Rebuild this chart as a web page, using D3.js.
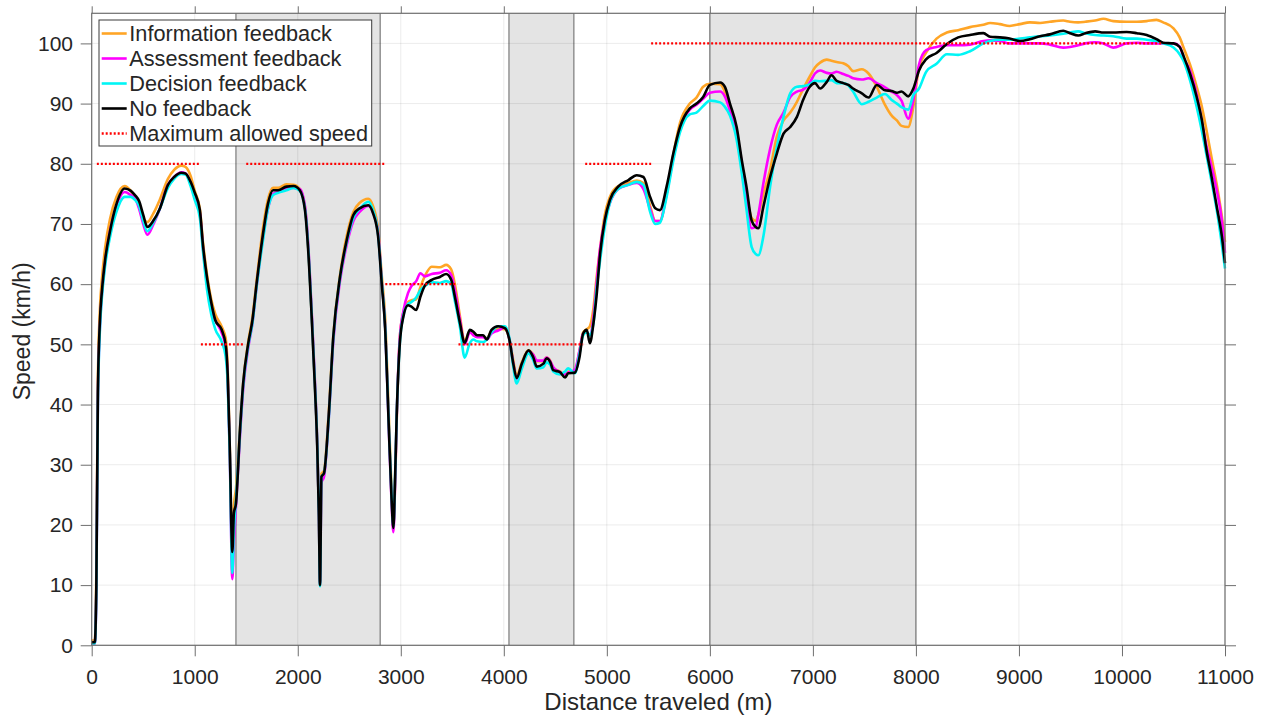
<!DOCTYPE html>
<html>
<head>
<meta charset="utf-8">
<script src="https://cdn.jsdelivr.net/npm/d3@7"></script>
<style>
  html, body { margin: 0; padding: 0; background: #fff; }
  svg { display: block; }
  text { font-family: "Liberation Sans", Arial, sans-serif; fill: #262626; }
</style>
</head>
<body>
<svg id="chart" width="1265" height="717"></svg>
<script>
// ---------------- DATA ----------------
const distance = [
  0,30,45,60,80,100,130,180,240,320, 380,420,460,500,540,600,660,740,800,870, 910,960,1000,1050,1080,1120,1160,1200,1260,1300, 1320,1340,1365,1380,1400,1440,
  1470,1520,1560,1600,1660,1710,1760,1810,1890,1960, 2020,2070,2100,2135,2165,2190,2205,2216,2230,2255, 2300,2345,2410,2475,2540,2600,2685,2730,2780,2815, 2850,2880,2910,2928,2945,2960,
  2990,3025,3070,3100,3150,3190,3235,3300,3380,3440, 3490,3525,3575,3620,
  3670,3705,3740,3800,3835,3880,3945,4010,4055,
  4090,4125,4175,4240,4285,4320,4385,4415,4450,4480, 4545,4595,4625,4690,4735,4770,4805,4835,4870,4900,
  4935,4980,5030,5110,5210,5290,5355,5420,5470,5515, 5580,5645,5710,5805,5870,5935,6000,
  6100,6145,6195,6260,6310,6355,6405,6445,6470,6520, 6585,6650,6715,6780,6845,6905,6970,7020,7070,7135, 7180,7230,7295,7345,7390,7475,7540,7620,7700,7765, 7815,7860,7925,7975,
  8030,8100,8200,8300,8410,8525,8655,8720,8815,8910, 9010,9105,9205,9300,9430,9495,9575,9645,9740,9820, 9915,10045,10145,10240,10335,10400,10500,10560,10600,10660, 10725,10775,10820,10870,10920,10970,11000
];

const infoFeedback = [
  0.8,0.8,12,44,56,61,66,71,74.5,76.3, 75.5,74.5,73,71,70.3,71.8,74,77.5,79,79.7, 79.5,78,75.5,72.5,67,61.5,57.5,55,53,51, 46,33,14.5,23,26,36,
  43.5,50.5,54.5,60.5,69,74,76,76,76.6,76.5, 75.8,72.8,66.5,55,44,33,22,10.5,28.5,29, 38.5,51.5,61.5,68,72,73.5,74.2,73,69,61.5, 54,40,26,20,27,37,
  51,55.3,57,57.3,57.5,59.5,61.4,62.9,62.8,63.2, 62.4,60,54.6,50.5,
  52.2,51.8,51.5,51.3,51,52.2,52.6,52.5,50.8,
  47.5,44.8,47,49,48.3,47.2,47.2,47.8,47.3,46, 45.5,44.8,45.5,45.5,49,52,52.5,53,56,61,
  66,71.5,74.5,76.3,76.8,77.2,76.8,73,70.5,70.5, 75,81.5,86.8,90,91,92.8,93.3,
  93.2,92,89.5,85.5,79.5,75,71,70.5,71.5,75, 79,84.5,87.2,88.5,90.3,92.4,94.5,96,96.8,97.3, 97.1,96.9,96.7,96.2,95.4,95.7,95,92.8,89.8,88, 87.2,86.3,86.1,89.5,
  96,98.5,100.8,101.8,102.2,102.7,103.1,103.4,103.2,102.9, 103.2,103.5,103.4,103.6,103.8,103.6,103.5,103.6,103.8,104.1, 103.7,103.6,103.6,103.7,103.9,103.5,102.5,101,99.2,96.5, 92.8,89.5,85.6,81,76.5,71.2,67
];

const assessmentFeedback = [
  0.3,0.3,9,41,53,58.5,63.5,69,73,75.3, 74.8,74.3,72.5,70,68.2,70,72.5,76.5,77.8,78.6, 78.4,76.8,74.6,71.8,66,60,56,54,52,49.5, 44.5,32,11,17,23,35,
  42.5,49.5,53.5,59.5,67.5,72.5,75,75.3,76,76, 75.8,73,67,55.5,44.5,33,22,10.2,27,28, 37.5,50.5,60.5,66.5,70.5,72,73,72,68.5,60.5, 52.5,38,24,18.8,27,37.5,
  51,55.5,58.5,59.6,60.5,61.8,61.3,61.7,61.9,62.3, 61.5,59,54,50,
  52,51.5,51.2,51.2,50.8,51.8,52.3,52.8,50.8,
  47,44.2,46.6,48.8,48.3,47.3,47.3,47.8,47.2,46.2, 45.4,45,45.3,45.8,49,51.8,52,51.5,54.5,60,
  66,70.5,73.5,75.8,76.5,76.8,75.8,72.5,70.5,70.5, 75,81,85.8,89,89.8,90.8,91.8,
  92,91.2,88.8,85,80,74,69.3,69.5,71.5,76.8, 82.5,86.5,88.5,91.1,92,92.3,93.5,95,95.5,95.1, 95,95.3,94.9,94.6,94.2,94,94.2,93.4,92.7,92, 91.4,90.5,87.5,90.6,
  96.5,98.9,99.4,99.7,99.7,99.8,100.4,100.5,100.4,100, 100,100,100,99.8,99.3,99.4,99.7,100,100.2,100, 99.3,100,100.1,100,100,100,100,99.5,97.5,95.5, 91.5,87,83,79.5,75.6,70.5,65.2
];

const decisionFeedback = [
  0.3,0.3,9,40,52.5,58,63,68,72,74.5, 74.5,74,73,70.5,68.8,70.3,72.5,76,77.5,78.3, 78.2,76.3,74,71,65.5,59,55,52.5,50.5,48, 43.5,32,12,19,24,35.5,
  43,49.8,53.5,59.5,67,72.5,74.8,75.2,75.6,76, 75.5,72.5,66.5,55,44,33,22,9.8,28,28.6, 37.5,51,61,67,71,72.5,73.7,72.3,68.2,60.5, 52.5,38.5,25,19.7,28,38,
  50,54.8,56.7,57,57.8,59,59.7,60.3,60.2,60.5, 60,57.2,52.8,47.8,
  50.2,50.8,50.5,50.4,50.8,52,53,53,51,
  46.5,43.5,46,48.5,47.4,46,46.2,47,46.6,45.5, 45,45.5,46,45.2,48.5,51.5,52,51.5,53.5,59,
  64,69.5,73.5,75.8,76.5,77,76.5,72,70,70.2, 74.5,80.5,85.2,88.2,88.5,89.6,90.5,
  90.2,89.5,88,84,78.4,72.5,66.2,65,64.8,68, 76.2,82.8,87.8,91.7,92.8,92.9,93.2,93.8,93.7,93.8, 93.9,93.4,93.4,93,92,89.9,90.3,91,91.6,90.6, 90,89.4,89,91.4,
  92.5,95.3,96.6,98.2,98.1,98.7,100,100.4,100.6,100.6, 100.8,101,101.2,101.3,101.6,101.8,102,101.7,101.4,101.3, 101.2,100.8,100.8,100.6,100.4,100,99.3,98.2,97,93.9, 89.5,85.5,81.5,77,72.3,66.5,62.6
];

const noFeedback = [
  0.5,0.5,10,42,54,59,64,69,73.3,75.9, 75.5,74.8,73.8,71.5,69.5,70.6,72.5,76.5,77.8,78.5, 78.4,77,75.2,72.3,66.5,61,57,54,52.5,50, 45,33,15.5,22,23.5,36,
  43.5,50.2,54,60,68,73.3,75.6,75.6,76.2,76.3, 75.6,72.3,66,54.6,43.5,32.4,21.5,10,28,28.6, 38,51.3,61.2,67.3,71.5,72.6,73.1,71.8,67.9,60.1, 52,38,24.5,19.5,28,38,
  50,54.6,56.5,56.3,55.7,57.9,59.8,60.7,61.2,61.7, 60.7,57.9,53.5,50.2,
  52.4,52.1,51.5,51.5,50.8,52.4,53,52.7,50.7,
  47,44.4,46.8,49,47.9,46.3,46.8,47.7,47.1,45.7, 45.4,44.5,45.2,45.3,47.9,51.8,52.4,50.2,53.5,58,
  65.1,70.6,74,76.2,77.3,78.1,77.8,74.5,72.6,72.3, 76.2,81.7,86.1,89.2,90,91.1,93.1,
  93.5,92.8,90,86.1,80.6,76.2,70.6,69.5,69.3,72.9, 77.8,81.7,85,86.1,87.8,90.6,92.8,93.4,92.5,93.6, 94.7,93.8,93.4,93.1,92.5,91.7,91,93.1,92.2,92.1, 91.8,92,91.2,92.5,
  95.5,97.4,98.4,99.9,101,101.4,101.7,101.1,101,100.8, 100.4,100.7,101.2,101.5,102.1,101.7,101.3,101.7,102,101.8, 101.8,101.9,101.7,101.4,100.7,100.1,100,99.4,97.8,95, 91.1,87.3,82.3,77.8,72.9,67.9,63.5
];

// speed-limit segments
const limitStart = [50, 1060, 1500, 2850, 3560, 4790, 5430];
const limitEnd   = [1050, 1470, 2850, 3550, 4770, 5430, 10400];
const limitValue = [80, 50, 80, 60, 50, 80, 100];

// shaded zones
const zoneStart = [1400, 4050, 6000];
const zoneEnd   = [2800, 4680, 8000];

const seriesNames = ["Information feedback", "Assessment feedback", "Decision feedback", "No feedback"];
const limitName = "Maximum allowed speed";
const xTicks = [0,1000,2000,3000,4000,5000,6000,7000,8000,9000,10000,11000];
const yTicks = [0,10,20,30,40,50,60,70,80,90,100];
const xTitle = "Distance traveled (m)";
const yTitle = "Speed (km/h)";

// ---------------- DRAW ----------------
const colors = ["#FFA526", "#FF00FF", "#00F5F5", "#000000"];
const seriesValues = [infoFeedback, assessmentFeedback, decisionFeedback, noFeedback];

const svg = d3.select("#chart");
const L = 91.7, R = 1225, T = 13.3, B = 645.3;
const x = d3.scaleLinear().domain([0, 11000]).range([L, R]);
const y = d3.scaleLinear().domain([0, 105]).range([B, T]);

// shaded zones
svg.append("g").selectAll("rect").data(zoneStart).join("rect")
  .attr("x", (d, i) => x(d)).attr("y", T)
  .attr("width", (d, i) => x(zoneEnd[i]) - x(d)).attr("height", B - T)
  .attr("fill", "#e4e4e4");
svg.append("g").selectAll("line").data(zoneStart.concat(zoneEnd)).join("line")
  .attr("x1", d => x(d)).attr("x2", d => x(d)).attr("y1", T).attr("y2", B)
  .attr("stroke", "#7a7a7a").attr("stroke-width", 1.2);

// grid
const grid = svg.append("g");
grid.selectAll(".gx").data(xTicks).join("line")
  .attr("x1", d => x(d)).attr("x2", d => x(d)).attr("y1", T).attr("y2", B)
  .attr("stroke", "rgba(0,0,0,0.08)").attr("stroke-width", 1);
grid.selectAll(".gy").data(yTicks).join("line")
  .attr("y1", d => y(d)).attr("y2", d => y(d)).attr("x1", L).attr("x2", R)
  .attr("stroke", "rgba(0,0,0,0.08)").attr("stroke-width", 1);

// series lines
const line = d3.line().curve(d3.curveMonotoneX);
const gLines = svg.append("g");
seriesValues.forEach((vals, k) => {
  const pts = distance.map((d, i) => [x(d), y(vals[i])]);
  gLines.append("path").attr("d", line(pts))
    .attr("fill", "none").attr("stroke", colors[k])
    .attr("stroke-width", 2.6).attr("stroke-linejoin", "round");
});

// speed limits
svg.append("g").selectAll("line").data(limitStart).join("line")
  .attr("x1", d => x(d)).attr("x2", (d, i) => x(limitEnd[i]))
  .attr("y1", (d, i) => y(limitValue[i])).attr("y2", (d, i) => y(limitValue[i]))
  .attr("stroke", "#ff0000").attr("stroke-width", 2.3).attr("stroke-dasharray", "2,2");

// axes
const axColor = "#6e6e6e";
function styleAxis(g) {
  g.select(".domain").remove();
  g.selectAll(".tick line").attr("stroke", axColor);
  g.selectAll(".tick text").style("font-size", "21px").attr("fill", "#262626");
}
svg.append("g").attr("transform", `translate(0,${B})`)
  .call(d3.axisBottom(x).tickValues(xTicks).tickSize(11).tickPadding(12.5).tickFormat(d3.format("d")))
  .call(styleAxis);
svg.append("g").attr("transform", `translate(0,${T})`)
  .call(d3.axisTop(x).tickValues(xTicks).tickSize(7).tickFormat(""))
  .call(styleAxis);
svg.append("g").attr("transform", `translate(${L},0)`)
  .call(d3.axisLeft(y).tickValues(yTicks).tickSize(11).tickPadding(7.7).tickFormat(d3.format("d")))
  .call(styleAxis);
svg.append("g").attr("transform", `translate(${R},0)`)
  .call(d3.axisRight(y).tickValues(yTicks).tickSize(11).tickFormat(""))
  .call(styleAxis);
svg.append("rect").attr("x", L).attr("y", T).attr("width", R - L).attr("height", B - T)
  .attr("fill", "none").attr("stroke", axColor).attr("stroke-width", 1.2);

// axis titles
svg.append("text").attr("x", (L + R) / 2).attr("y", 710).attr("text-anchor", "middle")
  .style("font-size", "24px").attr("fill", "#000").text(xTitle);
svg.append("text").attr("transform", `translate(30,${(T + B) / 2 + 2}) rotate(-90)`)
  .attr("text-anchor", "middle").style("font-size", "23px").attr("fill", "#000").text(yTitle);

// legend
const leg = svg.append("g");
leg.append("rect").attr("x", 99).attr("y", 20).attr("width", 272.7).attr("height", 126)
  .attr("fill", "#fff").attr("stroke", "#3a3a3a").attr("stroke-width", 1);
const legNames = seriesNames.concat([limitName]);
legNames.forEach((name, i) => {
  const cy = 33.5 + i * 25;
  const ln = leg.append("line").attr("x1", 101.7).attr("x2", 126.7).attr("y1", cy).attr("y2", cy);
  if (i < 4) ln.attr("stroke", colors[i]).attr("stroke-width", 2.6);
  else ln.attr("stroke", "#ff0000").attr("stroke-width", 2.3).attr("stroke-dasharray", "2,2");
  leg.append("text").attr("x", 129.3).attr("y", cy).attr("dy", "0.36em")
    .style("font-size", "21.7px").attr("fill", "#000").text(name);
});
</script>
</body>
</html>
